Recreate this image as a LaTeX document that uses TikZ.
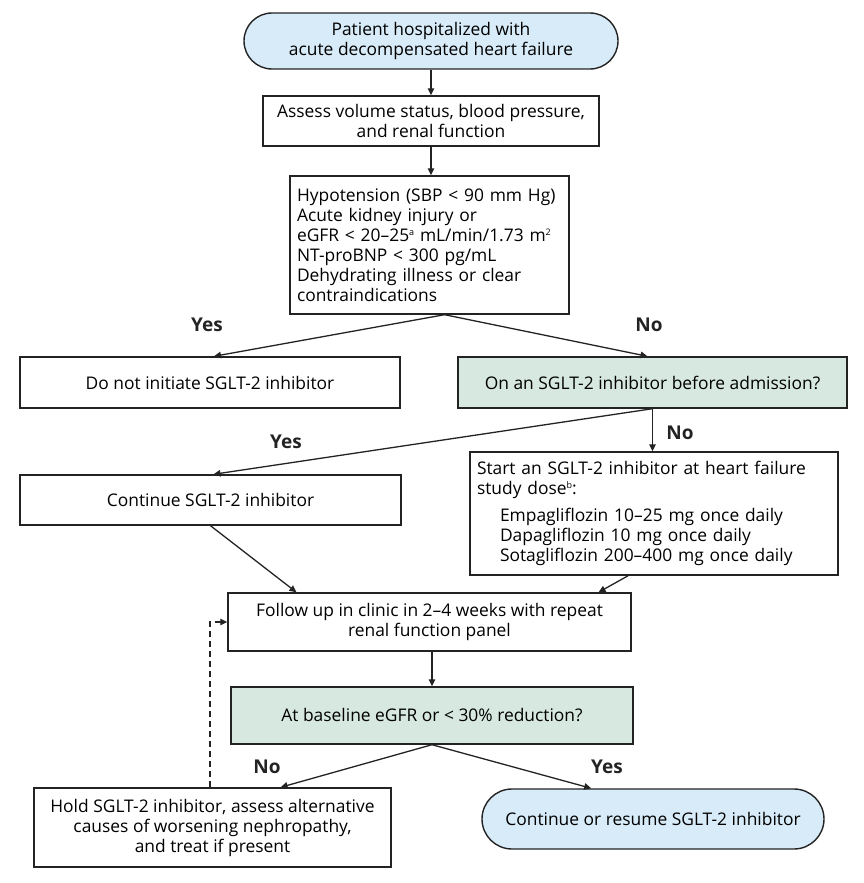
\documentclass[tikz,border=0pt]{standalone}
\usepackage{fontspec}
\setmainfont{Open Sans}
\usetikzlibrary{arrows.meta,calc}
\definecolor{termblue}{RGB}{216,235,248}
\definecolor{decgreen}{RGB}{214,232,223}
\definecolor{edge}{RGB}{35,35,35}
\newcommand{\supx}[1]{\raisebox{6pt}{\fontsize{9}{9}\selectfont #1}}
\tikzset{
  box/.style={draw=edge,line width=1.4pt,inner sep=0pt,align=center,font=\fontsize{17.4}{20}\selectfont},
  term/.style={box,rounded corners=28pt,fill=termblue},
  dec/.style={box,fill=decgreen},
  conn/.style={draw=edge,line width=1.3pt,-{Triangle[length=7pt,width=6.5pt]}},
  dconn/.style={conn,dashed,dash pattern=on 6pt off 4pt},
  lab/.style={font=\fontsize{19}{22}\selectfont\bfseries,text=edge}
}
\begin{document}
\begin{tikzpicture}[x=1pt,y=-1pt]
\useasboundingbox (0,0) rectangle (864,883);
\node[term,minimum width=374pt,minimum height=56pt] (top) at (431,41) {Patient hospitalized with\\acute decompensated heart failure};
\node[box,minimum width=336pt,minimum height=50pt] (assess) at (431,121) {Assess volume status, blood pressure,\\and renal function};
\node[box,minimum width=279pt,minimum height=138pt,text width=265pt,align=left] (crit) at (429.5,245) {Hypotension (SBP < 90 mm Hg)\\Acute kidney injury or\\eGFR < 20–25\supx{a} mL/min/1.73 m\supx{2}\\NT-proBNP < 300 pg/mL\\Dehydrating illness or clear\\contraindications};
\node[box,minimum width=380pt,minimum height=51pt] (dni) at (210,382.5) {Do not initiate SGLT-2 inhibitor};
\node[dec,minimum width=389pt,minimum height=51pt] (on) at (652.5,382.5) {On an SGLT-2 inhibitor before admission?};
\node[box,minimum width=381pt,minimum height=50pt] (cont) at (210.5,500) {Continue SGLT-2 inhibitor};
\node[box,minimum width=368pt,minimum height=123pt,text width=354pt,align=left] (start) at (654,513.5) {Start an SGLT-2 inhibitor at heart failure\\study dose\supx{b}:\\[7pt]
\hspace*{23pt}Empagliflozin 10–25 mg once daily\\
\hspace*{23pt}Dapagliflozin 10 mg once daily\\
\hspace*{23pt}Sotagliflozin 200–400 mg once daily};
\node[box,minimum width=403pt,minimum height=58pt] (follow) at (429.5,622) {Follow up in clinic in 2–4 weeks with repeat\\renal function panel};
\node[dec,minimum width=402pt,minimum height=57pt] (base) at (432,715.5) {At baseline eGFR or < 30\% reduction?};
\node[box,minimum width=357pt,minimum height=79pt] (hold) at (212.5,827.5) {Hold SGLT-2 inhibitor, assess alternative\\causes of worsening nephropathy,\\and treat if present};
\node[term,minimum width=342pt,minimum height=60pt,rounded corners=30pt] (resume) at (653,819) {Continue or resume SGLT-2 inhibitor};
% labels
\node[lab] (l1) at (207,325) {Yes};
\node[lab] (l2) at (649,325) {No};
\node[lab] (l3) at (286,442) {Yes};
\node[lab] (l4) at (680,433) {No};
\node[lab] (l5) at (267,767) {No};
\node[lab] (l6) at (607,767) {Yes};
% connectors
\draw[conn] (top.south) -- (assess.north);
\draw[conn] (assess.south) -- (assess.south |- crit.north);
\coordinate (cs) at ($(crit.south west)!0.5538!(crit.south east)$);
\draw[conn] (cs) -- ($(dni.north)+(4,0)$);
\draw[conn] (cs) -- ($(on.north)+(-5,0)$);
\draw[conn] (on.south) -- ($(cont.north)+(3,0)$);
\draw[conn] (on.south) -- (on.south |- start.north);
\draw[conn] (cont.south) -- ($(follow.north west)!0.171!(follow.north east)$);
\draw[conn] ($(start.south west)!0.43!(start.south east)$) -- ($(follow.north west)!0.918!(follow.north east)$);
\draw[conn] (base.north |- follow.south) -- (base.north);
\draw[conn] (base.south) -- ($(hold.north west)!0.69!(hold.north east)$);
\draw[conn] (base.south) -- ($(resume.north west)!0.32!(resume.north east)$);
\draw[dconn] ($(hold.north west)!0.493!(hold.north east)$) |- (follow.west);
\end{tikzpicture}
\end{document}
